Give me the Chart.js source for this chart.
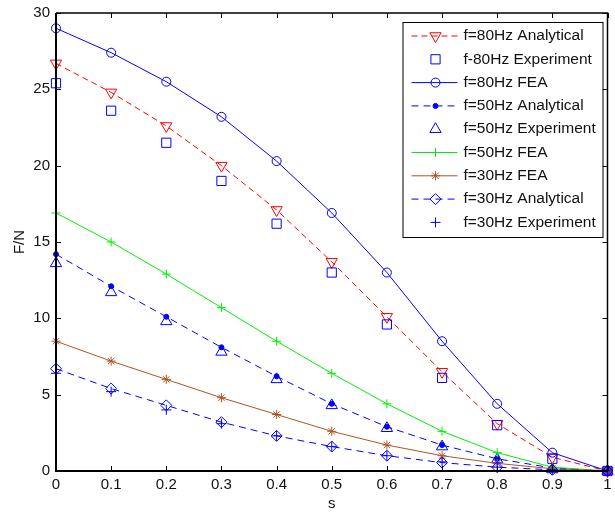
<!DOCTYPE html>
<html>
<head>
<meta charset="utf-8">
<script src="https://cdn.jsdelivr.net/npm/chart.js@4.4.1/dist/chart.umd.min.js"></script>
<style>html,body{margin:0;padding:0;background:#fff;}</style>
</head>
<body>
<canvas id="chart" width="615" height="513"></canvas>
<script>
// s values (x axis) shared by every series
const sValues = [0, 0.1, 0.2, 0.3, 0.4, 0.5, 0.6, 0.7, 0.8, 0.9, 1];

const xTicks = [0, 0.1, 0.2, 0.3, 0.4, 0.5, 0.6, 0.7, 0.8, 0.9, 1];
const xTickLabels = ['0', '0.1', '0.2', '0.3', '0.4', '0.5', '0.6', '0.7', '0.8', '0.9', '1'];
const yTicks = [0, 5, 10, 15, 20, 25, 30];
const yTickLabels = ['0', '5', '10', '15', '20', '25', '30'];

const seriesNames = [
  'f=80Hz Analytical', 'f-80Hz Experiment', 'f=80Hz FEA',
  'f=50Hz Analytical', 'f=50Hz Experiment', 'f=50Hz FEA',
  'f=30Hz FEA', 'f=30Hz Analytical', 'f=30Hz Experiment'
];

// F/N values
const f80Analytical = [26.7, 24.8, 22.6, 20.0, 17.1, 13.7, 10.1, 6.5, 3.1, 0.9, 0];
const f80Experiment = [25.4, 23.6, 21.5, 19.0, 16.2, 13.0, 9.6, 6.1, 3.0, 0.8, 0];
const f80FEA        = [29.0, 27.4, 25.5, 23.2, 20.3, 16.9, 13.0, 8.5, 4.4, 1.2, 0];
const f50Analytical = [14.2, 12.1, 10.1, 8.1, 6.2, 4.4, 2.9, 1.7, 0.8, 0.2, 0];
const f50Experiment = [13.6, 11.7, 9.8, 7.8, 6.0, 4.3, 2.8, 1.6, 0.75, 0.1, 0];
const f50FEA        = [16.9, 15.0, 12.9, 10.7, 8.5, 6.4, 4.4, 2.6, 1.2, 0.25, 0];
const f30FEA        = [8.5, 7.2, 6.0, 4.8, 3.7, 2.6, 1.7, 1.0, 0.5, 0.15, 0];
const f30Analytical = [6.7, 5.4, 4.3, 3.2, 2.3, 1.6, 1.0, 0.55, 0.25, 0.08, 0];
const f30Experiment = [6.4, 5.2, 4.0, 3.1, 2.3, 1.6, 1.0, 0.6, 0.25, 0.08, 0];

const BLUE = '#0000ff', RED = '#ff0000', GREEN = '#00ee00', BROWN = 'rgb(175,85,35)';

const styles = [
  { values: f80Analytical, color: RED,   line: true,  dash: [6, 4], point: 'triangle', radius: 6.5, rotation: 180 },
  { values: f80Experiment, color: BLUE,  line: false, dash: [],     point: 'rect',     radius: 6.5 },
  { values: f80FEA,        color: BLUE,  line: true,  dash: [],     point: 'circle',   radius: 4.5 },
  { values: f50Analytical, color: BLUE,  line: true,  dash: [7, 5], point: 'circle',   radius: 2.5, fill: true },
  { values: f50Experiment, color: BLUE,  line: false, dash: [],     point: 'triangle', radius: 6.5 },
  { values: f50FEA,        color: GREEN, line: true,  dash: [],     point: 'cross',    radius: 4.5 },
  { values: f30FEA,        color: BROWN, line: true,  dash: [],     point: 'star',     radius: 4.5 },
  { values: f30Analytical, color: BLUE,  line: true,  dash: [7, 5], point: 'rectRot',  radius: 5.5 },
  { values: f30Experiment, color: BLUE,  line: false, dash: [],     point: 'cross',    radius: 5 }
];

const datasets = styles.map((st, i) => ({
  label: seriesNames[i],
  data: sValues.map((s, k) => ({ x: s, y: st.values[k] })),
  showLine: st.line,
  borderColor: st.color,
  borderWidth: 1,
  borderDash: st.dash,
  pointStyle: st.point,
  pointRadius: st.radius,
  pointRotation: st.rotation || 0,
  pointBorderColor: st.color,
  pointBackgroundColor: st.fill ? st.color : 'rgba(0,0,0,0)',
  pointBorderWidth: 1,
  clip: false,
  order: -i
}));

const FONT = '"Liberation Sans", Arial, sans-serif';

// box, inward ticks and line+marker legend, MATLAB style
const framePlugin = {
  id: 'frame',
  afterDraw(chart) {
    const { ctx, chartArea: a, scales: { x, y } } = chart;
    ctx.save();
    ctx.strokeStyle = '#000';
    ctx.lineWidth = 1;
    ctx.beginPath();
    xTicks.forEach(v => {
      const px = Math.round(x.getPixelForValue(v)) + 0.5;
      ctx.moveTo(px, a.bottom); ctx.lineTo(px, a.bottom - 5);
      ctx.moveTo(px, a.top); ctx.lineTo(px, a.top + 5);
    });
    yTicks.forEach(v => {
      const py = Math.round(y.getPixelForValue(v)) + 0.5;
      ctx.moveTo(a.left, py); ctx.lineTo(a.left + 5, py);
      ctx.moveTo(a.right, py); ctx.lineTo(a.right - 5, py);
    });
    ctx.stroke();

    ctx.lineWidth = 1.5;
    ctx.beginPath();
    ctx.moveTo(a.left, a.top); ctx.lineTo(a.right, a.top); ctx.lineTo(a.right, a.bottom);
    ctx.stroke();
    ctx.lineWidth = 2;
    ctx.beginPath();
    ctx.moveTo(a.left, a.top); ctx.lineTo(a.left, a.bottom); ctx.lineTo(a.right, a.bottom);
    ctx.stroke();

    // legend
    const bx = a.right - 205, by = a.top + 9, bw = 200, bh = 215;
    ctx.fillStyle = '#fff';
    ctx.fillRect(bx, by, bw, bh);
    ctx.lineWidth = 1;
    ctx.strokeStyle = '#000';
    ctx.strokeRect(bx + 0.5, by + 0.5, bw, bh);
    ctx.font = '15.5px ' + FONT;
    ctx.textBaseline = 'middle';
    ctx.textAlign = 'left';
    datasets.forEach((ds, i) => {
      const ry = by + 14 + i * 23.3;
      const st = styles[i];
      if (st.line) {
        ctx.save();
        ctx.strokeStyle = st.color;
        ctx.lineWidth = 1;
        ctx.setLineDash(st.dash);
        ctx.beginPath();
        ctx.moveTo(bx + 9, ry); ctx.lineTo(bx + 55, ry);
        ctx.stroke();
        ctx.restore();
      }
      ctx.save();
      ctx.strokeStyle = st.color;
      ctx.fillStyle = st.fill ? st.color : 'rgba(0,0,0,0)';
      ctx.lineWidth = 1;
      Chart.helpers.drawPoint(ctx, {
        pointStyle: st.point, radius: st.radius, rotation: st.rotation || 0, borderWidth: 1
      }, bx + 33, ry);
      ctx.restore();
      ctx.fillStyle = '#111';
      ctx.fillText(ds.label, bx + 61, ry);
    });
    ctx.restore();
  }
};

new Chart(document.getElementById('chart'), {
  type: 'scatter',
  data: { datasets },
  options: {
    responsive: false,
    animation: false,
    events: [],
    layout: { padding: { top: 13, right: 3, left: 0, bottom: 0 } },
    plugins: { legend: { display: false }, tooltip: { enabled: false } },
    scales: {
      x: {
        type: 'linear', min: 0, max: 1,
        grid: { display: false, drawTicks: false },
        border: { display: false },
        afterBuildTicks: s => { s.ticks = xTicks.map(v => ({ value: v })); },
        afterFit: s => { s.height = 42; s.paddingLeft = 0; s.paddingRight = 0; },
        ticks: {
          padding: 5, maxRotation: 0, autoSkip: false, color: '#111',
          font: { family: FONT, size: 15 },
          callback: (v, i) => xTickLabels[i]
        },
        title: { display: true, text: 's', color: '#111', font: { family: FONT, size: 15 }, padding: 0 }
      },
      y: {
        type: 'linear', min: 0, max: 30,
        grid: { display: false, drawTicks: false },
        border: { display: false },
        afterBuildTicks: s => { s.ticks = yTicks.map(v => ({ value: v })); },
        afterFit: s => { s.width = 56; s.paddingTop = 0; s.paddingBottom = 0; },
        ticks: {
          padding: 6, autoSkip: false, color: '#111',
          font: { family: FONT, size: 15 },
          callback: (v, i) => yTickLabels[i]
        },
        title: { display: true, text: 'F/N', color: '#111', font: { family: FONT, size: 15 }, padding: { top: 11 } }
      }
    }
  },
  plugins: [framePlugin]
});
</script>
</body>
</html>
